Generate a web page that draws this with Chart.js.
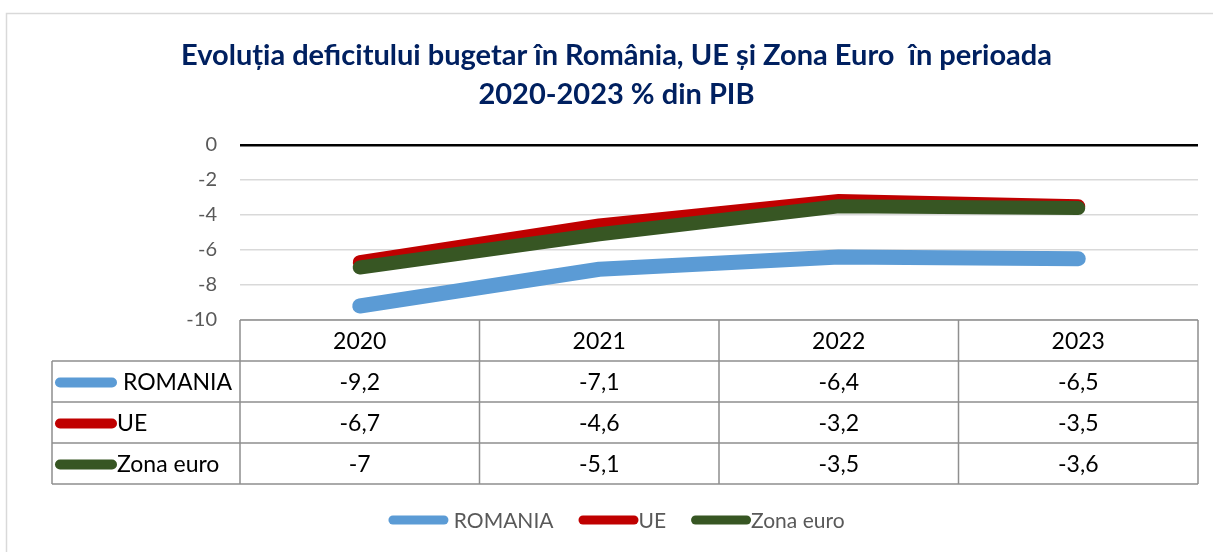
<!DOCTYPE html>
<html>
<head>
<meta charset="utf-8">
<script src="https://cdn.jsdelivr.net/npm/chart.js@4"></script>
<style>
  html, body { margin: 0; padding: 0; background: #fff; }
  #wrap { width: 1213px; height: 552px; position: relative; }
</style>
</head>
<body>
<div id="wrap"><canvas id="deficitChart" width="1213" height="552"></canvas></div>
<script>
// Data
const years = ['2020', '2021', '2022', '2023'];
const seriesNames = [' ROMANIA', 'UE', 'Zona euro'];
const romania = [-9.2, -7.1, -6.4, -6.5];
const ue = [-6.7, -4.6, -3.2, -3.5];
const zonaEuro = [-7, -5.1, -3.5, -3.6];
const yTicks = [0, -2, -4, -6, -8, -10];

const titleLines = ['Evoluția deficitului bugetar în România, UE și Zona Euro  în perioada', '2020-2023 % din PIB'];
const colors = ['#5b9bd5', '#c00000', '#375623'];
const FONT = 'Lato, Calibri, sans-serif';
const PAD = { left: 35, right: 15, top: 0, bottom: 232 };

function fmt(v) {
    return String(v).replace('.', ',');
}

// Frame, data table and legend drawn below the plot (Excel style)
const tablePlugin = {
    id: 'dataTable',
    beforeDraw(chart) {
        const ctx = chart.ctx;
        ctx.save();
        ctx.strokeStyle = '#d9d9d9';
        ctx.lineWidth = 1.5;
        ctx.strokeRect(6.5, 13.5, 1220, 560);
        ctx.restore();
    },
    afterDraw(chart) {
        const ctx = chart.ctx;
        const x = chart.scales.x;
        const area = chart.chartArea;
        const rowH = 41;
        const top = area.bottom;
        const leftCol = 52;
        const bandW = (area.right - area.left) / years.length;
        const datasets = chart.data.datasets;

        ctx.save();
        ctx.strokeStyle = '#8f8f8f';
        ctx.lineWidth = 1.5;
        ctx.beginPath();
        ctx.moveTo(area.left, top);
        ctx.lineTo(area.right, top);
        for (let r = 1; r <= 4; r++) {
            ctx.moveTo(leftCol, top + r * rowH);
            ctx.lineTo(area.right, top + r * rowH);
        }
        ctx.moveTo(leftCol, top + rowH);
        ctx.lineTo(leftCol, top + 4 * rowH);
        for (let c = 0; c <= years.length; c++) {
            const cx = area.left + c * bandW;
            ctx.moveTo(cx, top);
            ctx.lineTo(cx, top + 4 * rowH);
        }
        ctx.stroke();

        ctx.fillStyle = '#000';
        ctx.font = '23px ' + FONT;
        ctx.textAlign = 'center';
        ctx.textBaseline = 'middle';
        years.forEach((yr, i) => {
            ctx.fillText(yr, x.getPixelForValue(i), top + rowH / 2 + 1);
        });

        datasets.forEach((ds, r) => {
            const cy = top + (r + 1) * rowH + rowH / 2 + 1;
            ds.data.forEach((v, i) => {
                ctx.textAlign = 'center';
                ctx.fillText(fmt(v), x.getPixelForValue(i), cy);
            });
            ctx.strokeStyle = ds.borderColor;
            ctx.lineWidth = 10;
            ctx.lineCap = 'round';
            ctx.beginPath();
            ctx.moveTo(60, cy);
            ctx.lineTo(112, cy);
            ctx.stroke();
            ctx.textAlign = 'left';
            ctx.fillText(ds.label, 117, cy);
        });

        // bottom legend
        const ly = 520;
        ctx.font = '21px ' + FONT;
        ctx.fillStyle = '#595959';
        const keyW = 60;
        const gap = 25;
        const widths = datasets.map(ds => keyW + ctx.measureText(ds.label).width);
        const total = widths.reduce((a, b) => a + b, 0) + gap * (widths.length - 1);
        const mid = (PAD.left + chart.width - PAD.right) / 2;
        let lx = mid - total / 2;
        datasets.forEach((ds, i) => {
            ctx.strokeStyle = ds.borderColor;
            ctx.lineWidth = 9;
            ctx.lineCap = 'round';
            ctx.beginPath();
            ctx.moveTo(lx + 4.5, ly);
            ctx.lineTo(lx + keyW - 4.5, ly);
            ctx.stroke();
            ctx.textAlign = 'left';
            ctx.fillText(ds.label, lx + keyW, ly + 1);
            lx += widths[i] + gap;
        });
        ctx.restore();
    }
};

const ctx = document.getElementById('deficitChart').getContext('2d');
new Chart(ctx, {
    type: 'line',
    data: {
        labels: years,
        datasets: [romania, ue, zonaEuro].map((vals, i) => ({
            label: seriesNames[i],
            data: vals,
            order: 2 - i,
            borderColor: colors[i],
            backgroundColor: colors[i],
            borderWidth: i === 0 ? 15 : 14,
            borderCapStyle: 'round',
            borderJoinStyle: 'round',
            pointRadius: 0,
            tension: 0,
            fill: false
        }))
    },
    options: {
        responsive: false,
        animation: false,
        events: [],
        layout: { padding: PAD },
        plugins: {
            legend: { display: false },
            tooltip: { enabled: false },
            title: {
                display: true,
                text: titleLines,
                color: '#002060',
                font: { family: FONT, size: 29, weight: 'bold', lineHeight: 1.345 },
                padding: { top: 36, bottom: 31 }
            }
        },
        scales: {
            x: {
                display: false,
                offset: true
            },
            y: {
                min: -10,
                max: 0,
                afterFit(scale) { scale.width = 240 - PAD.left; },
                afterBuildTicks(scale) { scale.ticks = yTicks.map(v => ({ value: v })); },
                border: { display: false },
                grid: {
                    drawTicks: false,
                    color: c => c.tick.value === 0 ? '#000' : '#d9d9d9',
                    lineWidth: c => c.tick.value === 0 ? 2.5 : 1.5
                },
                ticks: {
                    padding: 23,
                    color: '#595959',
                    font: { family: FONT, size: 20 }
                }
            }
        }
    },
    plugins: [tablePlugin]
});
</script>
</body>
</html>
